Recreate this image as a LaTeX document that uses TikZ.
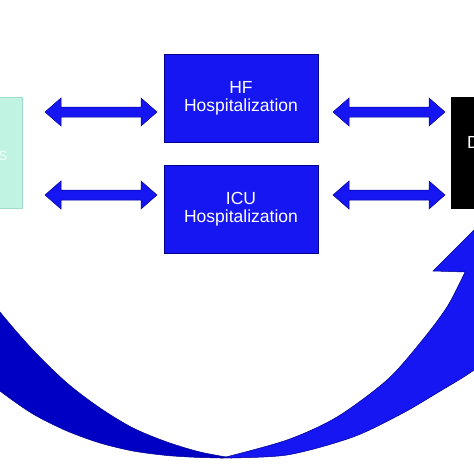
\documentclass[tikz,border=0pt]{standalone}
\usepackage{fontspec}
\setmainfont{Liberation Sans}
\definecolor{boxblue}{RGB}{22,22,242}
\definecolor{edgeblue}{RGB}{0,0,140}
\definecolor{darkband}{RGB}{0,0,196}
\definecolor{mint}{RGB}{192,243,226}
\definecolor{mintedge}{RGB}{160,222,200}
\definecolor{minttext}{RGB}{236,255,248}
\begin{document}
\begin{tikzpicture}[x=1pt,y=-1pt,
  bluebox/.style={draw=edgeblue, line width=0.6pt, fill=boxblue,
    minimum width=154pt, minimum height=88pt, inner sep=0pt,
    text=white, align=center, font=\fontsize{17.5}{18}\selectfont},
  sidetext/.style={inner sep=0pt, font=\fontsize{17.5}{18}\selectfont},
  arrowfill/.style={fill=boxblue, draw=edgeblue, line width=0.5pt, line join=miter},
  dblarrow/.pic={
    \path[arrowfill] (0,0) -- (16,-14) -- (16,-5) -- (96,-5) -- (96,-14)
      -- (112,0) -- (96,14) -- (96,5) -- (16,5) -- (16,14) -- cycle;
  }]
\useasboundingbox (0,0) rectangle (474,474);
\clip (0,0) rectangle (474,474);
\fill[white] (0,0) rectangle (474,474);

% side boxes
\node[draw=mintedge, fill=mint, line width=0.8pt, minimum width=80pt,
      minimum height=111pt, anchor=east] (leftbox) at (23,153) {};
\node[sidetext, text=minttext, anchor=base east] (lefttext) at (7.5,160) {s};
\node[draw=black, fill=black, minimum width=80pt, minimum height=111pt,
      anchor=west] (rightbox) at (451,152.5) {};
\node[sidetext, text=white, anchor=base west] (righttext) at (467,148) {D};

% centre boxes
\node[bluebox] (hf) at (241,98) {HF\\Hospitalization};
\node[bluebox] (icu) at (241,209) {ICU\\Hospitalization};

% double arrows
\pic (a1) at (45,112) {dblarrow};
\pic (a2) at (45,195) {dblarrow};
\pic (a3) at (333,112) {dblarrow};
\pic (a4) at (333,195) {dblarrow};

% big curved arrow: dark back part
\filldraw[fill=darkband, draw=edgeblue, line width=0.5pt]
  plot[smooth] coordinates {(-30,272) (0,312) (33,350) (67,383) (100,408)
     (133,428) (167,442) (200,452) (232,458)}
  -- plot[smooth] coordinates {(232,458) (200,457.5) (167,455.5) (133,451)
     (100,443) (67,431) (33,414) (0,391) (-30,366)}
  -- cycle;
% bright front part with head
\filldraw[fill=boxblue, draw=edgeblue, line width=0.5pt]
  plot[smooth] coordinates {(222,458) (287,440) (337,417) (387,380)
     (420,343) (447,307) (465,272)}
  -- (433,271) -- (489,215) -- (545,272) -- (518,274)
  -- plot[smooth] coordinates {(518,274) (515,300) (500,345) (474,370)
     (437,393) (403,413) (353,437) (287,455) (222,458)}
  -- cycle;
\end{tikzpicture}
\end{document}
